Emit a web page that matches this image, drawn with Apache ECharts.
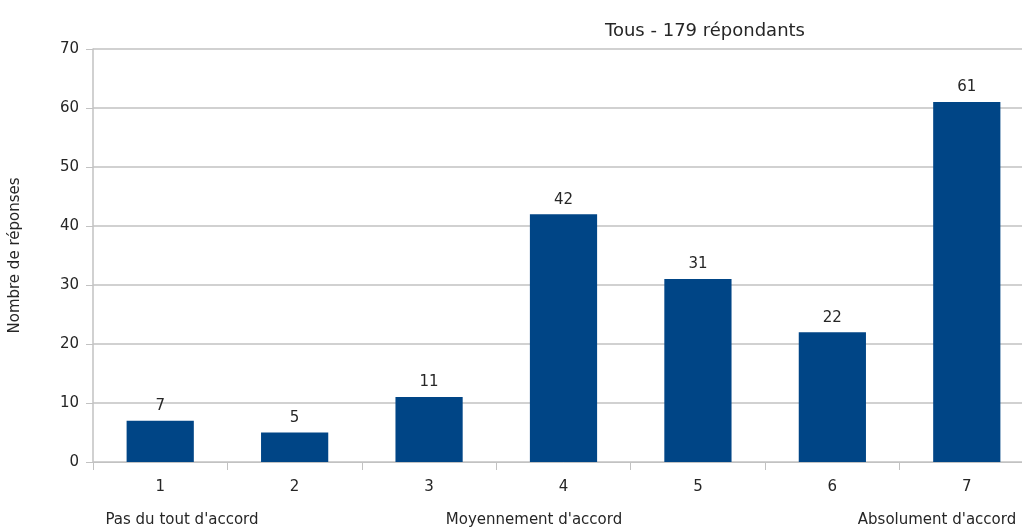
<!DOCTYPE html>
<html>
<head>
<meta charset="utf-8">
<script src="https://cdn.jsdelivr.net/npm/echarts@6/dist/echarts.min.js"></script>
<style>
  html, body { margin: 0; padding: 0; overflow: hidden; background: #ffffff; }
  #chart { width: 1060px; height: 528px; }
</style>
</head>
<body>
<div id="chart"></div>
<script>
// Survey answers on a 1–7 agreement scale
const titleText = 'Tous - 179 répondants';
const categories = ['1', '2', '3', '4', '5', '6', '7'];
const responses = [7, 5, 11, 42, 31, 22, 61];
const yTicks = { min: 0, max: 70, step: 10 };
const yAxisName = 'Nombre de réponses';
const scaleLabels = ["Pas du tout d'accord", "Moyennement d'accord", "Absolument d'accord"];
const scaleLabelX = [182, 534, 937];

const FONT = 'DejaVu Sans';
const TEXT = '#262626';
const GRID = '#c2c2c2';
const BAR = '#004586';

const chart = echarts.init(document.getElementById('chart'), null, { renderer: 'canvas' });

chart.setOption({
  animation: false,
  backgroundColor: '#ffffff',
  textStyle: { fontFamily: FONT, color: TEXT },
  title: {
    text: titleText,
    left: 600,
    top: 17,
    textStyle: { fontFamily: FONT, fontSize: 18, fontWeight: 'normal', color: TEXT }
  },
  grid: { left: 91, right: 26, top: 49, bottom: 66, containLabel: false },
  xAxis: {
    type: 'category',
    data: categories,
    boundaryGap: true,
    axisLine: { show: true, lineStyle: { color: GRID, width: 1 } },
    axisTick: { show: true, length: 8, lineStyle: { color: GRID } },
    axisLabel: { fontFamily: FONT, fontSize: 15, color: TEXT, margin: 18 },
    splitLine: { show: false }
  },
  yAxis: {
    type: 'value',
    min: yTicks.min,
    max: yTicks.max,
    interval: yTicks.step,
    name: yAxisName,
    nameLocation: 'middle',
    nameRotate: 90,
    nameGap: 70,
    nameTextStyle: { fontFamily: FONT, fontSize: 15, color: TEXT },
    axisLine: { show: true, lineStyle: { color: GRID, width: 1.5 } },
    axisTick: { show: true, length: 7, lineStyle: { color: GRID } },
    axisLabel: { fontFamily: FONT, fontSize: 15, color: TEXT, margin: 14 },
    splitLine: { show: true, lineStyle: { color: GRID, width: 1.5 } }
  },
  series: [{
    type: 'bar',
    data: responses,
    barWidth: '50%',
    itemStyle: { color: BAR },
    label: {
      show: true,
      position: 'top',
      distance: 7,
      fontFamily: FONT,
      fontSize: 15,
      color: TEXT
    }
  }],
  graphic: scaleLabels.map((t, i) => ({
    type: 'text',
    x: scaleLabelX[i],
    y: 520,
    style: {
      text: t,
      fontFamily: FONT,
      fontSize: 15,
      fill: TEXT,
      align: 'center',
      verticalAlign: 'middle'
    }
  }))
});
</script>
</body>
</html>
